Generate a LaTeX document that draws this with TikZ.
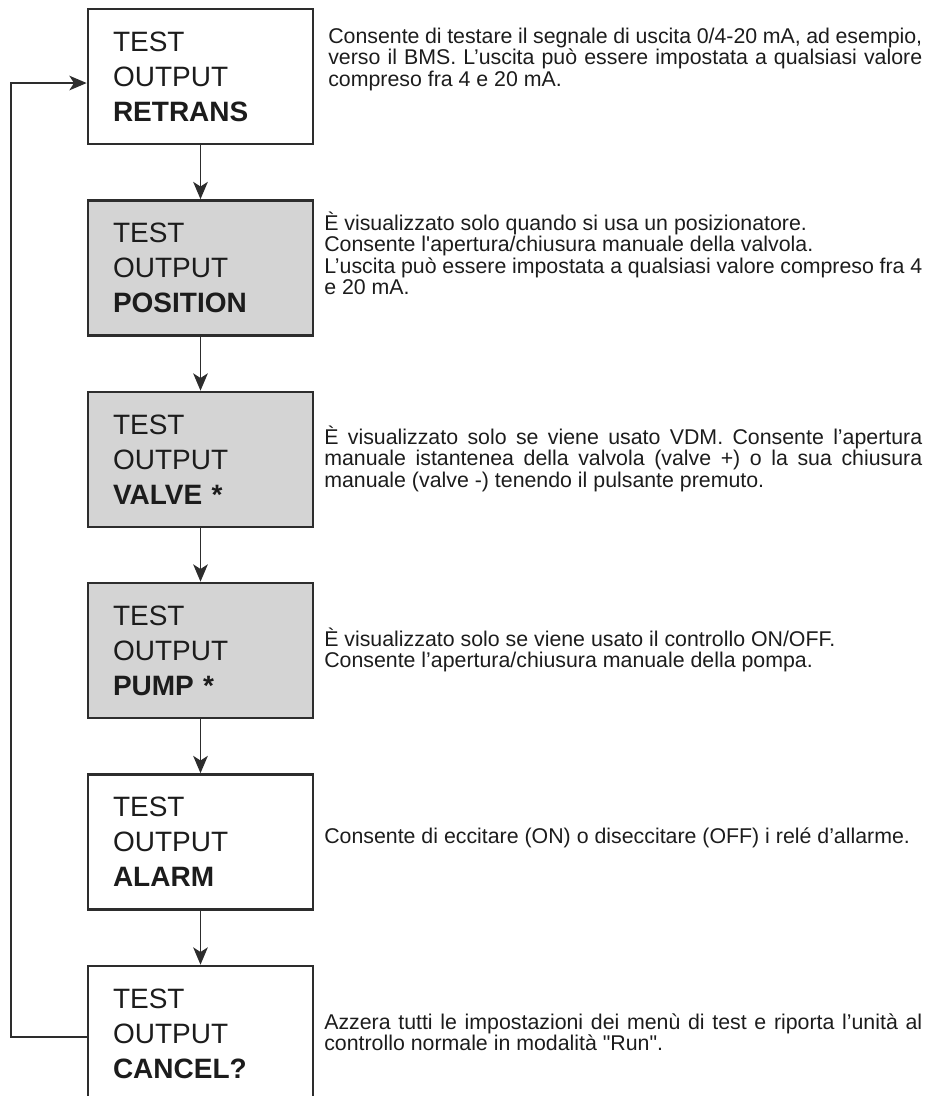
\documentclass[tikz,border=0pt]{standalone}
\usepackage{fontspec}
\setmainfont{Liberation Sans}
\newfontfamily\descfont{Liberation Sans}
\usetikzlibrary{arrows.meta,positioning}
\definecolor{menuGray}{RGB}{212,212,212}
\definecolor{menuLine}{RGB}{45,45,45}
\definecolor{menuText}{RGB}{28,28,28}

\tikzset{
  menubox/.style={draw=menuLine, line width=2pt, minimum width=168.75pt, minimum height=101.25pt,
    text width=131.25pt, inner sep=0pt, align=left, text=menuText,
    font=\fontsize{21}{26.25}\selectfont},
  optbox/.style={menubox, fill=menuGray},
  desc/.style={anchor=base west, inner sep=0pt, text width=448.5pt, align=justify, text=menuText,
    font=\descfont\fontsize{16}{16.2}\selectfont},
  flow/.style={draw=menuLine, line width=1pt, -{Stealth[length=13pt, width=11pt, inset=3.5pt]}}
}

\begin{document}
\begin{tikzpicture}[x=0.75pt, y=-0.75pt]
\useasboundingbox (0,0) rectangle (933,1096);

% menu entries
\node[menubox] (retrans) at (200.5,76.5) {TEST\\OUTPUT\\\textbf{RETRANS}};
\node[optbox] (position) at (200.5,268) {TEST\\OUTPUT\\\textbf{POSITION}};
\node[optbox] (valve) at (200.5,459.5) {TEST\\OUTPUT\\\textbf{VALVE *}};
\node[optbox] (pump) at (200.5,650.5) {TEST\\OUTPUT\\\textbf{PUMP *}};
\node[menubox] (alarm) at (200.5,842) {TEST\\OUTPUT\\\textbf{ALARM}};
\node[menubox] (cancel) at (200.5,1033.5) {TEST\\OUTPUT\\\textbf{CANCEL?}};

% explanations
\node[desc, text width=445.5pt] (dretrans) at (328,43) {Consente di testare il segnale di uscita 0/4-20 mA, ad esempio,\linebreak
  verso il BMS. L’uscita può essere impostata a qualsiasi valore\linebreak compreso fra 4 e 20 mA.};
\node[desc] (dposition) at (324,230) {È visualizzato solo quando si usa un posizionatore.\\
  Consente l'apertura/chiusura manuale della valvola.\\
  L’uscita può essere impostata a qualsiasi valore compreso fra 4\linebreak e 20 mA.};
\node[desc] (dvalve) at (324,444) {È visualizzato solo se viene usato VDM. Consente l’apertura\linebreak
  manuale istantenea della valvola (valve +) o la sua chiusura\linebreak manuale (valve -) tenendo il pulsante premuto.};
\node[desc] (dpump) at (324,646) {È visualizzato solo se viene usato il controllo ON/OFF.\\
  Consente l’apertura/chiusura manuale della pompa.};
\node[desc] (dalarm) at (324,843) {Consente di eccitare (ON) o diseccitare (OFF) i relé d’allarme.};
\node[desc] (dcancel) at (324,1029) {Azzera tutti le impostazioni dei menù di test e riporta l’unità al\linebreak
  controllo normale in modalità "Run".};

% sequence and return path
\draw[flow] (retrans) -- (position);
\draw[flow] (position) -- (valve);
\draw[flow] (valve) -- (pump);
\draw[flow] (pump) -- (alarm);
\draw[flow] (alarm) -- (cancel);
\coordinate (back) at (11,1037);
\draw[flow] (cancel.west |- back) -- (back) |- ([yshift=-4.9pt]retrans.west);
\end{tikzpicture}
\end{document}
